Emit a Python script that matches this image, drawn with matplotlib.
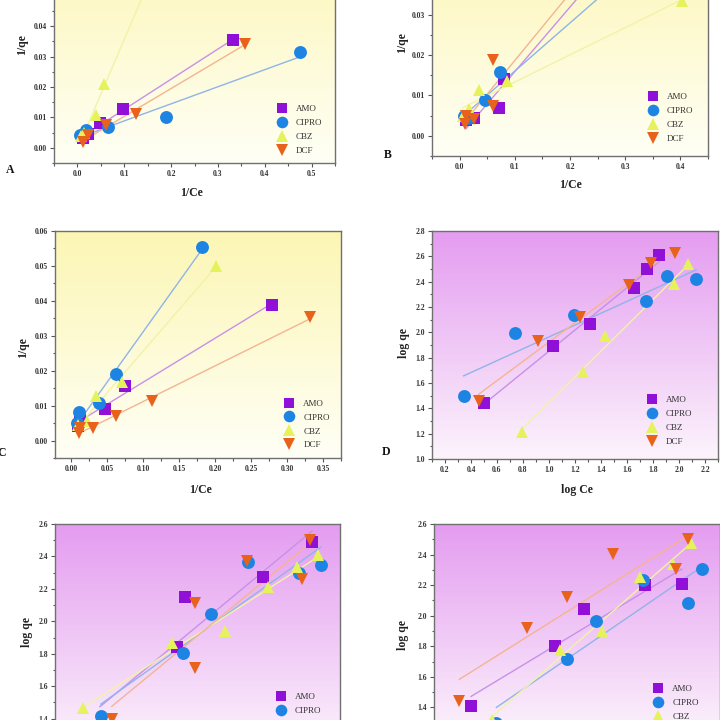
import numpy as np
import matplotlib
matplotlib.use('Agg')
import matplotlib.pyplot as plt
from matplotlib.colors import LinearSegmentedColormap
from matplotlib.ticker import MultipleLocator, FixedLocator, FormatStrFormatter

plt.rcParams['font.family'] = ['Liberation Serif', 'DejaVu Serif']

W = H = 720
fig = plt.figure(figsize=(7.2, 7.2), dpi=100)

labels = ['AMO', 'CIPRO', 'CBZ', 'DCF']

# ---------------- Panel A : 1/qe vs 1/Ce ----------------
A_AMO_x = [0.333, 0.0975, 0.048, 0.022, 0.012]
A_AMO_y = [0.0356, 0.0127, 0.0082, 0.0046, 0.0033]
A_CIPRO_x = [0.476, 0.190, 0.065, 0.018, 0.005]
A_CIPRO_y = [0.0314, 0.0101, 0.0070, 0.0059, 0.0041]
A_CBZ_x = [0.170, 0.056, 0.039, 0.014, 0.008]
A_CBZ_y = [0.0611, 0.0209, 0.0107, 0.0048, 0.0040]
A_DCF_x = [0.358, 0.125, 0.0605, 0.023, 0.012]
A_DCF_y = [0.0343, 0.0112, 0.0074, 0.0041, 0.0019]

# ---------------- Panel B : 1/qe vs 1/Ce ----------------
B_AMO_x = [0.260, 0.081, 0.0715, 0.026, 0.012]
B_AMO_y = [0.0422, 0.0141, 0.0069, 0.0044, 0.0040]
B_CIPRO_x = [0.320, 0.0733, 0.046, 0.015, 0.008]
B_CIPRO_y = [0.0418, 0.0157, 0.0089, 0.0045, 0.0048]
B_CBZ_x = [0.402, 0.0867, 0.035, 0.017, 0.006]
B_CBZ_y = [0.0333, 0.0136, 0.0114, 0.0066, 0.0048]
B_DCF_x = [0.250, 0.0606, 0.061, 0.026, 0.012, 0.009]
B_DCF_y = [0.0434, 0.0189, 0.0073, 0.0041, 0.0050, 0.0030]

# ---------------- Panel C : 1/qe vs 1/Ce ----------------
C_AMO_x = [0.279, 0.0745, 0.0476, 0.012, 0.010]
C_AMO_y = [0.0389, 0.0155, 0.0091, 0.0060, 0.0043]
C_CIPRO_x = [0.182, 0.0616, 0.0387, 0.011, 0.008]
C_CIPRO_y = [0.0555, 0.0191, 0.0108, 0.0081, 0.0049]
C_CBZ_x = [0.201, 0.070, 0.035, 0.022, 0.010]
C_CBZ_y = [0.0500, 0.0167, 0.0127, 0.0055, 0.0045]
C_DCF_x = [0.332, 0.113, 0.062, 0.031, 0.012, 0.011]
C_DCF_y = [0.0353, 0.0114, 0.0069, 0.0036, 0.0036, 0.0022]

# ---------------- Panel D : log qe vs log Ce ----------------
D_AMO_x = [1.849, 1.757, 1.655, 1.317, 1.030, 0.497]
D_AMO_y = [2.611, 2.498, 2.349, 2.067, 1.894, 1.446]
D_CIPRO_x = [2.132, 1.911, 1.747, 1.196, 0.735, 0.343]
D_CIPRO_y = [2.420, 2.446, 2.251, 2.138, 1.994, 1.499]
D_CBZ_x = [2.072, 1.965, 1.432, 1.265, 0.792]
D_CBZ_y = [2.540, 2.383, 1.972, 1.686, 1.213]
D_DCF_x = [1.970, 1.786, 1.619, 1.240, 0.919, 0.458]
D_DCF_y = [2.625, 2.546, 2.375, 2.120, 1.935, 1.454]

# ---------------- Panel E : log qe ----------------
E_AMO_x = [2.082, 1.704, 1.104, 1.040, 0.447]
E_AMO_y = [2.491, 2.271, 2.151, 1.843, 1.350]
E_CIPRO_x = [2.154, 1.984, 1.593, 1.302, 1.091, 0.453]
E_CIPRO_y = [2.347, 2.296, 2.367, 2.044, 1.802, 1.415]
E_CBZ_x = [2.133, 1.966, 1.747, 1.413, 1.001, 0.314]
E_CBZ_y = [2.409, 2.333, 2.209, 1.941, 1.867, 1.468]
E_DCF_x = [2.069, 2.005, 1.580, 1.181, 1.181, 0.538]
E_DCF_y = [2.501, 2.259, 2.372, 2.114, 1.709, 1.400]

# ---------------- Panel F : log qe ----------------
F_AMO_x = [2.005, 1.723, 1.254, 1.031, 0.385]
F_AMO_y = [2.205, 2.201, 2.043, 1.803, 1.408]
F_CIPRO_x = [2.159, 2.056, 1.705, 1.344, 1.125, 0.580]
F_CIPRO_y = [2.303, 2.081, 2.233, 1.965, 1.716, 1.300]
F_CBZ_x = [2.077, 1.941, 1.685, 1.390, 1.069, 0.544]
F_CBZ_y = [2.474, 2.338, 2.251, 1.901, 1.775, 1.321]
F_DCF_x = [2.056, 1.962, 1.479, 1.121, 0.818, 0.295]
F_DCF_y = [2.500, 2.303, 2.404, 2.120, 1.917, 1.443]

# ---------------- styles ----------------
marker_colors = ['#9010D8', '#1E84E4', '#E6F25C', '#E8621C']
line_colors = ['#C890E8', '#90B4E8', '#F2F2A8', '#F4B490']
markers = ['s', 'o', '^', 'v']
msizes = [8.0, 9.3, 9.3, 9.3]

YELLOW = ('#FCF6B4', '#FFFFF6')
PURPLE = ('#E49CF0', '#FCF4FC')


def px_axes(l, t, r, b):
    return fig.add_axes([l / W, 1 - b / H, (r - l) / W, (b - t) / H])


def px_to_axes(ax, px, py):
    disp = fig.transFigure.transform((px / W, 1 - py / H))
    return ax.transAxes.inverted().transform(disp)


def gradient(ax, top, bottom):
    cmap = LinearSegmentedColormap.from_list('g', [bottom, top])
    grad = np.linspace(0, 1, 256).reshape(-1, 1)
    ax.imshow(grad, cmap=cmap, aspect='auto', extent=[0, 1, 0, 1],
              transform=ax.transAxes, origin='lower', zorder=0,
              interpolation='bilinear')


def visible_ticks(lo, hi, step, p_lo, p_hi):
    # major tick values whose position lies inside the 720 px picture
    vals = np.arange(np.ceil(lo / step - 1e-9), np.floor(hi / step + 1e-9) + 1) * step
    vals = np.round(vals, 8) + 0.0
    pos = p_lo + (vals - lo) / (hi - lo) * (p_hi - p_lo)
    return vals[(pos > 3) & (pos < W)]


def panel(box, xs, ys, xlim, ylim, xmaj, ymaj, xfmt, yfmt, bg,
          xlabel, ylabel, xlab_px, ylab_px, leg_px, nleg=4):
    l, t, r, b = box
    ax = px_axes(*box)
    gradient(ax, *bg)
    handles = []
    for i in range(4):
        x = np.asarray(xs[i], float)
        y = np.asarray(ys[i], float)
        k, c = np.polyfit(x, y, 1)
        xx = np.array([x.min(), x.max()])
        ax.plot(xx, k * xx + c, color=line_colors[i], lw=1.0, zorder=2)
        h, = ax.plot(x, y, linestyle='none', marker=markers[i],
                     markersize=msizes[i], color=marker_colors[i],
                     markeredgewidth=0, zorder=3, label=labels[i])
        handles.append(h)
    ax.set_xlim(*xlim)
    ax.set_ylim(*ylim)
    ax.xaxis.set_major_locator(FixedLocator(visible_ticks(xlim[0], xlim[1], xmaj, l, r)))
    ax.xaxis.set_minor_locator(MultipleLocator(xmaj / 2))
    ax.yaxis.set_major_locator(FixedLocator(visible_ticks(ylim[0], ylim[1], ymaj, b, t)))
    ax.yaxis.set_minor_locator(MultipleLocator(ymaj / 2))
    ax.xaxis.set_major_formatter(FormatStrFormatter(xfmt))
    ax.yaxis.set_major_formatter(FormatStrFormatter(yfmt))
    ax.tick_params(which='both', direction='out', colors='#555555',
                   width=0.8, labelsize=5.5, labelcolor='#333333', pad=2)
    ax.tick_params(which='major', length=3)
    ax.tick_params(which='minor', length=1.8)
    if b > H:
        # bottom axis of this panel lies outside the picture
        ax.tick_params(axis='x', labelbottom=False)
    for lab in ax.get_xticklabels() + ax.get_yticklabels():
        lab.set_fontweight('bold')
    for s in ax.spines.values():
        s.set_color('#707070')
        s.set_linewidth(1.0)
    if xlabel:
        ax.set_xlabel(xlabel, fontsize=8.5, fontweight='bold', color='#222222')
        ax.xaxis.set_label_coords(*px_to_axes(ax, *xlab_px))
        ax.xaxis.label.set_va('center')
    ax.set_ylabel(ylabel, fontsize=8.5, fontweight='bold', color='#222222')
    ax.yaxis.set_label_coords(*px_to_axes(ax, *ylab_px))
    ax.yaxis.label.set_va('center')
    # legend: first marker centre at leg_px
    fs_pt = 6.5
    fs_px = fs_pt * 100 / 72
    hl = 1.0
    cx, cy = leg_px
    anchor = (cx - 0.5 * hl * fs_px, cy - 0.62 * fs_px)
    leg = ax.legend(handles=handles[:nleg], loc='upper left',
                    bbox_to_anchor=(anchor[0] / W, 1 - anchor[1] / H),
                    bbox_transform=fig.transFigure, frameon=False,
                    fontsize=fs_pt, handlelength=hl, handletextpad=1.05,
                    labelspacing=0.62, borderpad=0, borderaxespad=0,
                    markerscale=0.9)
    for tx in leg.get_texts():
        tx.set_color('#333333')
    return ax


# A
panel((54, -65, 335, 163),
      [A_AMO_x, A_CIPRO_x, A_CBZ_x, A_DCF_x],
      [A_AMO_y, A_CIPRO_y, A_CBZ_y, A_DCF_y],
      (-0.05, 0.55), (-0.005, 0.07), 0.1, 0.01, '%.1f', '%.2f', YELLOW,
      '1/Ce', '1/qe', (191.7, 192.7), (22, 45), (281.5, 110.5))
# B
panel((432, -66, 708, 156),
      [B_AMO_x, B_CIPRO_x, B_CBZ_x, B_DCF_x],
      [B_AMO_y, B_CIPRO_y, B_CBZ_y, B_DCF_y],
      (-0.05, 0.45), (-0.005, 0.05), 0.1, 0.01, '%.1f', '%.2f', YELLOW,
      '1/Ce', '1/qe', (570.7, 185), (401.7, 43), (652.7, 98.3))
# C
panel((55, 231, 341, 458),
      [C_AMO_x, C_CIPRO_x, C_CBZ_x, C_DCF_x],
      [C_AMO_y, C_CIPRO_y, C_CBZ_y, C_DCF_y],
      (-0.0225, 0.375), (-0.005, 0.06), 0.05, 0.01, '%.2f', '%.2f', YELLOW,
      '1/Ce', '1/qe', (200, 490), (23, 348), (289.3, 405))
# D
panel((432, 231, 718, 459),
      [D_AMO_x, D_CIPRO_x, D_CBZ_x, D_DCF_x],
      [D_AMO_y, D_CIPRO_y, D_CBZ_y, D_DCF_y],
      (0.1, 2.3), (1.0, 2.8), 0.2, 0.2, '%.1f', '%.1f', PURPLE,
      'log Ce', 'log qe', (576.7, 490), (404, 343), (651.7, 401.7))
# E (lower part of the panel lies outside the picture)
panel((55, 524, 340, 751),
      [E_AMO_x, E_CIPRO_x, E_CBZ_x, E_DCF_x],
      [E_AMO_y, E_CIPRO_y, E_CBZ_y, E_DCF_y],
      (0.1, 2.3), (1.2, 2.6), 0.2, 0.2, '%.1f', '%.1f', PURPLE,
      None, 'log qe', None, (27, 632), (280.5, 698.7), nleg=2)
# F (lower part of the panel lies outside the picture)
panel((434, 524, 720, 738),
      [F_AMO_x, F_CIPRO_x, F_CBZ_x, F_DCF_x],
      [F_AMO_y, F_CIPRO_y, F_CBZ_y, F_DCF_y],
      (0.1, 2.3), (1.2, 2.6), 0.2, 0.2, '%.1f', '%.1f', PURPLE,
      None, 'log qe', None, (403, 635), (658.3, 690.7), nleg=3)

# panel letters
for letter, (px, py) in zip('ABCD', [(10, 170), (388, 155), (2, 453), (386, 452)]):
    fig.text(px / W, 1 - py / H, letter, fontsize=8.5, fontweight='bold',
             ha='center', va='center', color='#111111')

fig.savefig('out.png', dpi=100, facecolor='white')
